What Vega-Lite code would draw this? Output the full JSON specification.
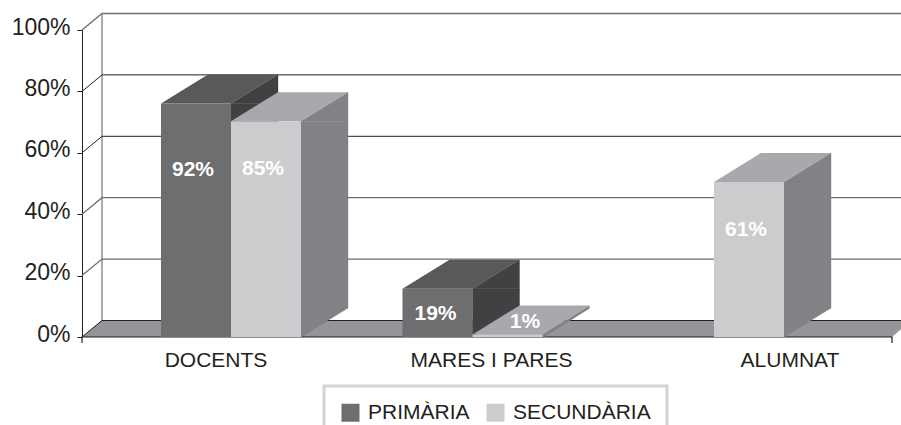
{
"$schema":"https://vega.github.io/schema/vega-lite/v6.json",
"width":810,"height":307,
"padding":{"left":82,"top":30,"right":9,"bottom":88},
"autosize":{"type":"none"},
"background":"white",
"config":{"view":{"stroke":null},"legend":{"strokeWidth":3},"font":"Liberation Sans"},
"resolve":{"scale":{"x":"independent","y":"independent"}},
"layer":[
{"data":{"values":[{"t":0}]},
 "encoding":{"y":{"field":"t","type":"quantitative","scale":{"domain":[0,1],"nice":false},"axis":null}},
 "layer":[
 {"mark":{"type":"point","shape":"M-405,0 L-385,-17 L425,-17 L405,0 Z","size":4,"filled":true,"fill":"#939598","opacity":1,"strokeWidth":0}},
 {"mark":{"type":"point","shape":"M-385,-17 L-385,-323","size":4,"filled":false,"stroke":"#58595b","opacity":1,"strokeWidth":1}},
 {"mark":{"type":"point","shape":"M-405,6 L-405,0 L405,0 L405,6","size":4,"filled":false,"stroke":"#231f20","opacity":1,"strokeWidth":1.2}}
 ]},
{"data":{"values":[{"t":0},{"t":0.6},{"t":0.8}]},
 "mark":{"type":"point","shape":"M-405,0 L-385,-16.5 L520,-16.5","size":4,"filled":false,"stroke":"#231f20","opacity":1,"strokeWidth":1},
 "encoding":{"y":{"field":"t","type":"quantitative","scale":{"domain":[0,1],"nice":false},"axis":null}}},
{"data":{"values":[{"t":0.2},{"t":0.4},{"t":1}]},
 "mark":{"type":"point","shape":"M-405,0 L-385,-16.5 L520,-16.5","size":4,"filled":false,"stroke":"#6d6e70","opacity":1,"strokeWidth":1.3},
 "encoding":{"y":{"field":"t","type":"quantitative","scale":{"domain":[0,1],"nice":false},
   "axis":{"values":[0,0.2,0.4,0.6,0.8,1],"format":".0%","grid":false,"title":null,"domainColor":"#231f20","tickColor":"#231f20","tickSize":5,"labelFontSize":23,"labelFont":"Liberation Sans","labelColor":"#231f20","labelPadding":7,"labelOffset":-3,"labelFlush":false,"labelOverlap":false}}}},
{"data":{"values":[
 {"categoria":"DOCENTS","serie":"PRIMÀRIA","valor":0.92},
 {"categoria":"DOCENTS","serie":"SECUNDÀRIA","valor":0.85},
 {"categoria":"MARES I PARES","serie":"PRIMÀRIA","valor":0.19},
 {"categoria":"MARES I PARES","serie":"SECUNDÀRIA","valor":0.01},
 {"categoria":"ALUMNAT","serie":"SECUNDÀRIA","valor":0.61}]},
 "encoding":{
  "x":{"field":"categoria","type":"nominal","sort":["DOCENTS","MARES I PARES","ALUMNAT"],
   "scale":{"type":"band","domain":["DOCENTS","MARES I PARES","ALUMNAT"],"range":[28.25,752.75],"paddingInner":0.42,"paddingOuter":0.21},
   "axis":{"title":null,"domain":false,"ticks":false,"labelAngle":0,"labelFontSize":21,"labelFont":"Liberation Sans","labelColor":"#231f20","labelPadding":12,"labelOffset":{"expr":"datum.label=='DOCENTS'?-15:datum.label=='ALUMNAT'?76:19"}}},
  "xOffset":{"field":"serie","type":"nominal","scale":{"domain":["PRIMÀRIA","SECUNDÀRIA"],"paddingInner":0,"paddingOuter":0}},
  "y":{"field":"valor","type":"quantitative","stack":null,"scale":{"domain":[0,1.209],"nice":false},"axis":null}
 },
 "layer":[
 {"transform":[{"filter":"datum.serie=='PRIMÀRIA'"}],"layer":[
  {"mark":{"type":"bar","fill":"#414042","stroke":"#414042","strokeWidth":0.4,"width":47,"xOffset":23.5},"encoding":{"xOffset":null,"y2":{"datum":0.114}}},
  {"mark":{"type":"point","shape":"M35,0 L82,-29 L82,0 Z","size":4,"filled":true,"fill":"#414042","stroke":"#414042","strokeWidth":0.4,"opacity":1}},
  {"mark":{"type":"point","shape":"M35,0 L35,-29 L82,-29 Z","size":4,"filled":true,"fill":"#414042","stroke":"#414042","strokeWidth":0.4,"opacity":1},"encoding":{"y":{"datum":0}}},
  {"mark":{"type":"point","shape":"M-35,0 L35,0 L82,-29 L12,-29 Z","size":4,"filled":true,"fill":"#58595b","strokeWidth":0,"opacity":1}},
  {"mark":{"type":"bar"},"encoding":{"color":{"field":"serie","type":"nominal","scale":{"domain":["PRIMÀRIA","SECUNDÀRIA"],"range":["#6d6e70","#cbccce"]},
    "legend":{"orient":"none","legendX":242,"legendY":356,"direction":"horizontal","columns":2,"title":null,"symbolType":"square","symbolSize":324,"symbolStrokeWidth":0,"labelFontSize":21,"labelFont":"Liberation Sans","labelColor":"#231f20","strokeColor":"#d1d3d4","padding":16,"columnPadding":15,"labelOffset":7,"fillColor":"white"}}}}
 ]},
 {"transform":[{"filter":"datum.serie=='SECUNDÀRIA'"}],"layer":[
  {"transform":[{"filter":"datum.valor>0.05"}],"layer":[
   {"mark":{"type":"bar","fill":"#808285","stroke":"#808285","strokeWidth":0.4,"width":47,"xOffset":93.5},"encoding":{"xOffset":null,"y2":{"datum":0.114}}},
   {"mark":{"type":"point","shape":"M35,0 L82,-29 L82,0 Z","size":4,"filled":true,"fill":"#808285","stroke":"#808285","strokeWidth":0.4,"opacity":1}},
   {"mark":{"type":"point","shape":"M35,0 L35,-29 L82,-29 Z","size":4,"filled":true,"fill":"#808285","stroke":"#808285","strokeWidth":0.4,"opacity":1},"encoding":{"y":{"datum":0}}}
  ]},
  {"transform":[{"filter":"datum.valor<=0.05"}],"mark":{"type":"point","shape":"M35,0 L82,-29 L82,-26 L35,3.5 Z","size":4,"filled":true,"fill":"#808285","strokeWidth":0,"opacity":1}},
  {"mark":{"type":"point","shape":"M-35,0 L35,0 L82,-29 L12,-29 Z","size":4,"filled":true,"fill":"#a7a9ac","strokeWidth":0,"opacity":1}},
  {"mark":{"type":"bar"},"encoding":{"color":{"field":"serie","type":"nominal","scale":{"domain":["PRIMÀRIA","SECUNDÀRIA"],"range":["#6d6e70","#cbccce"]},"legend":null}}}
 ]},
 {"transform":[{"filter":"datum.valor==0.92"}],"mark":{"type":"text","font":"Liberation Sans","fontWeight":"bold","fontSize":21,"fill":"white","dx":-3,"dy":66.5},"encoding":{"text":{"field":"valor","type":"quantitative","format":".0%"}}},
 {"transform":[{"filter":"datum.valor==0.85"}],"mark":{"type":"text","font":"Liberation Sans","fontWeight":"bold","fontSize":21,"fill":"white","dx":-3,"dy":47.5},"encoding":{"text":{"field":"valor","type":"quantitative","format":".0%"}}},
 {"transform":[{"filter":"datum.valor==0.61"}],"mark":{"type":"text","font":"Liberation Sans","fontWeight":"bold","fontSize":21,"fill":"white","dx":-3,"dy":47.5},"encoding":{"text":{"field":"valor","type":"quantitative","format":".0%"}}},
 {"transform":[{"filter":"datum.valor==0.19"}],"mark":{"type":"text","font":"Liberation Sans","fontWeight":"bold","fontSize":21,"fill":"white","dx":-2,"dy":25.5},"encoding":{"text":{"field":"valor","type":"quantitative","format":".0%"}}},
 {"transform":[{"filter":"datum.valor==0.01"}],"mark":{"type":"text","font":"Liberation Sans","fontWeight":"bold","fontSize":21,"fill":"white","dx":17.5,"dy":-12.5},"encoding":{"text":{"field":"valor","type":"quantitative","format":".0%"}}}
 ]}
]}
